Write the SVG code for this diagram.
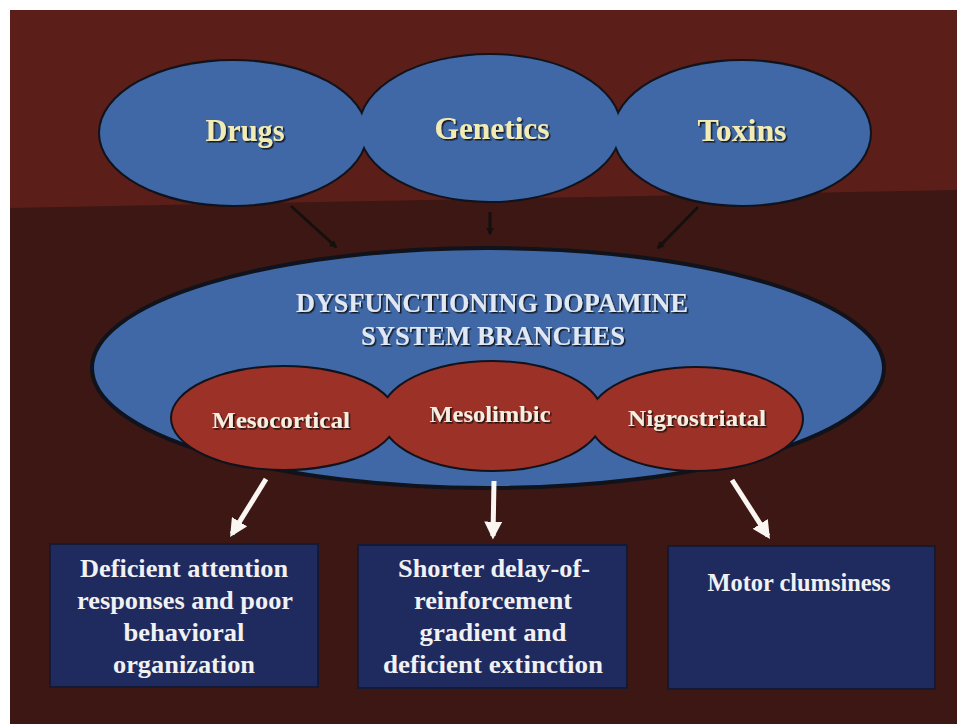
<svg xmlns="http://www.w3.org/2000/svg" width="957" height="724" viewBox="0 0 957 724">
<defs>
<style>
.bg{fill:#3c1714}
.band{fill:#5b1e18}
.blue{fill:#4068a6}
.red{fill:#9c3127}
.edge{stroke:#10131c;stroke-width:4}
.box{fill:#1f2b5e;stroke:#141a36;stroke-width:2}
.t{font-family:"Liberation Serif","Times New Roman",serif;font-weight:bold;text-anchor:middle}
.top{fill:#f2ecb4;font-size:31px;filter:url(#sh)}
.title{fill:#dfe8f4;font-size:27px;filter:url(#sh)}
.br{fill:#f6eee0;font-size:23px;filter:url(#sh)}
.bx{fill:#f1f1f4;font-size:26px}
.dk{stroke:#15100e;stroke-width:3;fill:none}
.wh{stroke:#fbf6f2;stroke-width:5;fill:none}
</style>
<filter id="sh" x="-10%" y="-30%" width="120%" height="160%">
<feDropShadow dx="1.5" dy="1.5" stdDeviation="0.6" flood-color="#0a0a10" flood-opacity="0.9"/>
</filter>
<marker id="ad" viewBox="0 0 10 10" refX="8" refY="5" markerWidth="2.5" markerHeight="2.5" orient="auto"><path d="M0,0 L10,5 L0,10 z" fill="#15100e"/></marker>
<marker id="aw" viewBox="0 0 10 10" refX="8" refY="5" markerWidth="3.6" markerHeight="3.6" orient="auto"><path d="M0,0 L10,5 L0,10 z" fill="#fbf6f2"/></marker>
</defs>
<rect x="0" y="0" width="957" height="724" fill="#ffffff"/>
<rect x="10" y="10" width="947" height="714" class="bg"/>
<polygon points="10,10 957,10 957,190 10,208" class="band"/>

<g id="causes">
<g class="edge blue">
<ellipse cx="233" cy="133" rx="133" ry="72"/>
<ellipse cx="490" cy="128" rx="130" ry="73"/>
<ellipse cx="742" cy="133" rx="128" ry="72"/>
</g>
<g class="blue">
<ellipse cx="233" cy="133" rx="133" ry="72"/>
<ellipse cx="490" cy="128" rx="130" ry="73"/>
<ellipse cx="742" cy="133" rx="128" ry="72"/>
</g>
</g>
<g id="node-drugs"><text class="t top" x="245" y="141" textLength="79" lengthAdjust="spacingAndGlyphs">Drugs</text></g>
<g id="node-genetics"><text class="t top" x="492" y="139" textLength="115" lengthAdjust="spacingAndGlyphs">Genetics</text></g>
<g id="node-toxins"><text class="t top" x="742" y="141" textLength="89" lengthAdjust="spacingAndGlyphs">Toxins</text></g>

<g id="node-dopamine">
<ellipse cx="488" cy="368" rx="396" ry="120" class="blue edge"/>
<text class="t title" x="492" y="312" textLength="392" lengthAdjust="spacingAndGlyphs">DYSFUNCTIONING DOPAMINE</text>
<text class="t title" x="493" y="345" textLength="264" lengthAdjust="spacingAndGlyphs">SYSTEM BRANCHES</text>
</g>

<g id="branches">
<g class="edge red">
<ellipse cx="284" cy="418" rx="112" ry="51"/>
<ellipse cx="492" cy="416" rx="110" ry="54"/>
<ellipse cx="696" cy="419" rx="106" ry="51"/>
</g>
<g class="red">
<ellipse cx="284" cy="418" rx="112" ry="51"/>
<ellipse cx="492" cy="416" rx="110" ry="54"/>
<ellipse cx="696" cy="419" rx="106" ry="51"/>
</g>
</g>
<g id="node-mesocortical"><text class="t br" x="281" y="428" textLength="138" lengthAdjust="spacingAndGlyphs">Mesocortical</text></g>
<g id="node-mesolimbic"><text class="t br" x="490" y="422" textLength="121" lengthAdjust="spacingAndGlyphs">Mesolimbic</text></g>
<g id="node-nigrostriatal"><text class="t br" x="697" y="426" textLength="138" lengthAdjust="spacingAndGlyphs">Nigrostriatal</text></g>

<g id="node-attention">
<rect x="50" y="544" width="268" height="143" class="box"/>
<text class="t bx" x="184" y="577" textLength="208" lengthAdjust="spacingAndGlyphs">Deficient attention</text>
<text class="t bx" x="185" y="609" textLength="216" lengthAdjust="spacingAndGlyphs">responses and poor</text>
<text class="t bx" x="184" y="641" textLength="121" lengthAdjust="spacingAndGlyphs">behavioral</text>
<text class="t bx" x="184" y="673" textLength="142" lengthAdjust="spacingAndGlyphs">organization</text>
</g>
<g id="node-reinforcement">
<rect x="358" y="545" width="269" height="143" class="box"/>
<text class="t bx" x="494" y="577" textLength="192" lengthAdjust="spacingAndGlyphs">Shorter delay-of-</text>
<text class="t bx" x="493" y="609" textLength="158" lengthAdjust="spacingAndGlyphs">reinforcement</text>
<text class="t bx" x="493" y="641" textLength="147" lengthAdjust="spacingAndGlyphs">gradient and</text>
<text class="t bx" x="493" y="673" textLength="220" lengthAdjust="spacingAndGlyphs">deficient extinction</text>
</g>
<g id="node-motor">
<rect x="668" y="546" width="267" height="143" class="box"/>
<text class="t bx" x="799" y="591" textLength="183" lengthAdjust="spacingAndGlyphs">Motor clumsiness</text>
</g>

<g id="connectors">
<line x1="291" y1="206" x2="336" y2="247" class="dk" marker-end="url(#ad)"/>
<line x1="490" y1="212" x2="490" y2="234" class="dk" marker-end="url(#ad)"/>
<line x1="698" y1="207" x2="658" y2="248" class="dk" marker-end="url(#ad)"/>
<line x1="266" y1="479" x2="232" y2="534" class="wh" marker-end="url(#aw)"/>
<line x1="494" y1="481" x2="493" y2="536" class="wh" marker-end="url(#aw)"/>
<line x1="732" y1="480" x2="768" y2="536" class="wh" marker-end="url(#aw)"/>
</g>
</svg>
